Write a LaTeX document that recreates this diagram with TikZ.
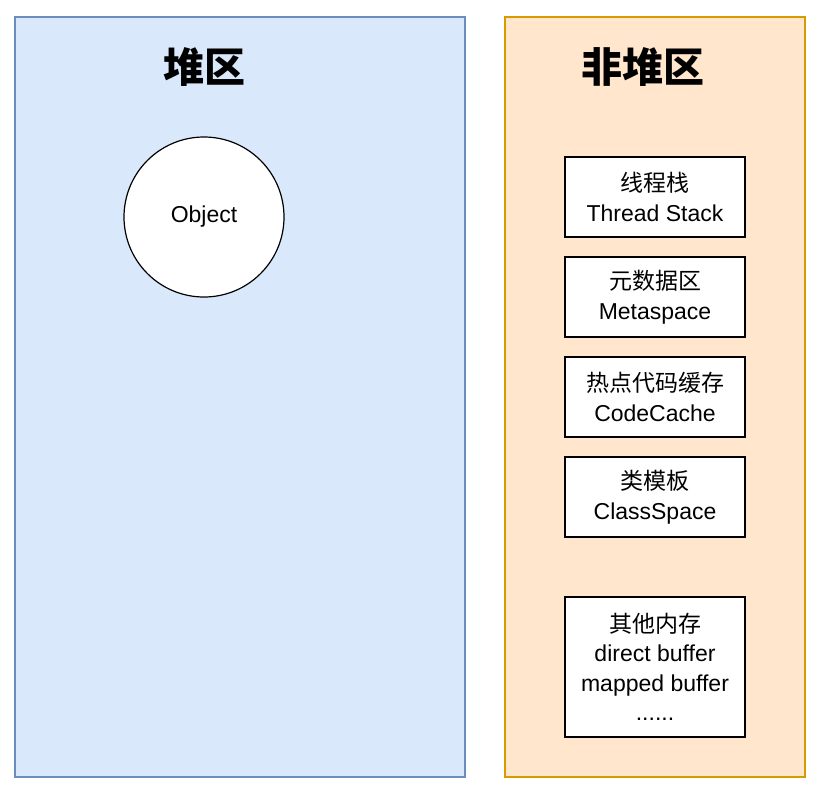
\documentclass[tikz,border=0pt]{standalone}
\usepackage{fontspec}
\setmainfont{Liberation Sans}
\newfontfamily\cjk{Noto Sans CJK SC}
\begin{document}
\begin{tikzpicture}[x=1pt,y=-1pt,
  box/.style={draw=black,fill=white,line width=1.2pt,minimum width=180pt,align=center,font=\fontsize{23}{29.5}\selectfont,inner sep=0pt},
  title/.style={font=\cjk\bfseries\fontsize{41}{48}\selectfont}]
\useasboundingbox (0,0) rectangle (816,788);
\definecolor{hb}{HTML}{DAE8FC}\definecolor{hs}{HTML}{6C8EBF}
\definecolor{nb}{HTML}{FFE6CC}\definecolor{ns}{HTML}{D79B00}
\node[draw=hs,fill=hb,line width=1.2pt,minimum width=450pt,minimum height=760pt,inner sep=0pt] (heap) at (240,397) {};
\node[draw=ns,fill=nb,line width=1.2pt,minimum width=300pt,minimum height=760pt,inner sep=0pt] (nonheap) at (655,397) {};
\node[title] (t1) at (204,67) {堆区};
\node[title] (t2) at (643,67) {非堆区};
\node[draw=black,fill=white,line width=1.2pt,circle,minimum size=160pt,inner sep=0pt,font=\fontsize{23}{29}\selectfont] (obj) at (204,217) {Object};
\node[box,minimum height=80pt] (b1) at (655,197) {{\cjk 线程栈}\\Thread Stack};
\node[box,minimum height=80pt] (b2) at (655,297) {{\cjk 元数据区}\\Metaspace};
\node[box,minimum height=80pt] (b3) at (655,397) {{\cjk 热点代码缓存}\\CodeCache};
\node[box,minimum height=80pt] (b4) at (655,497) {{\cjk 类模板}\\ClassSpace};
\node[box,minimum height=140pt] (b5) at (655,667) {{\cjk 其他内存}\\direct buffer\\mapped buffer\\......};
\end{tikzpicture}
\end{document}
